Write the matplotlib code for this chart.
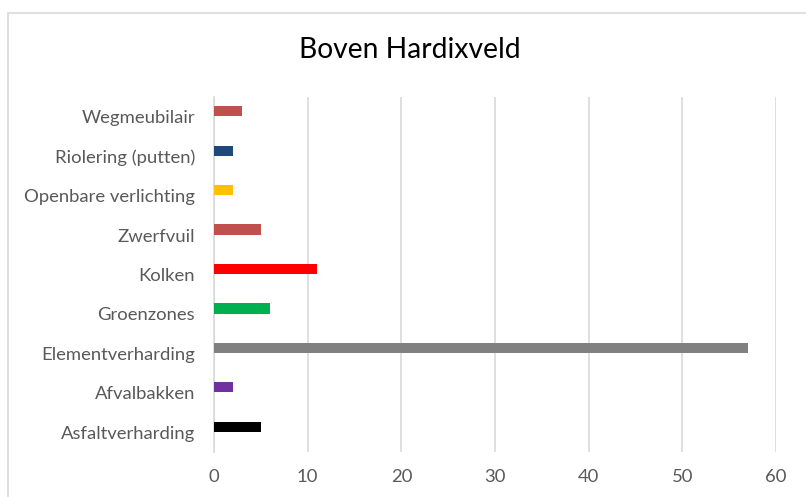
import matplotlib
matplotlib.use("Agg")
import matplotlib.pyplot as plt
from matplotlib.patches import Rectangle

categories = ["Asfaltverharding", "Afvalbakken", "Elementverharding", "Groenzones",
              "Kolken", "Zwerfvuil", "Openbare verlichting", "Riolering (putten)", "Wegmeubilair"]
values = [5, 2, 57, 6, 11, 5, 2, 2, 3]
colors = ["#000000", "#7030A0", "#808080", "#00B050", "#FF0000",
          "#C0504D", "#FFC000", "#1F497D", "#C0504D"]
xticks = [0, 10, 20, 30, 40, 50, 60]
title = "Boven Hardixveld"

plt.rcParams['font.family'] = ['Lato', 'DejaVu Sans']

W, H = 806, 497
fig = plt.figure(figsize=(W / 100, H / 100), dpi=100)
fig.patch.set_facecolor("white")

# chart border (partially cropped)
fig.patches.append(Rectangle((8 / W, -0.1), 1.2, 1 - 13 / H + 0.1, transform=fig.transFigure,
                             fill=False, edgecolor="#D9D9D9", linewidth=1.2, zorder=0))

left, right = 214 / W, 776 / W
top, bottom = 1 - 97 / H, 1 - 452 / H
ax = fig.add_axes([left, bottom, right - left, top - bottom])

y = list(range(len(categories)))
bar_offset = 0.14
ax.barh([v + bar_offset for v in y], values, height=0.26, color=colors, zorder=3)
ax.set_xlim(0, 60)
ax.set_ylim(-0.5, len(categories) - 0.5)
ax.set_xticks(xticks)
ax.set_xticklabels([str(t) for t in xticks])
ax.set_yticks(y)
ax.set_yticklabels(categories)
ax.tick_params(axis="both", length=0, labelcolor="#595959", labelsize=13.3)
ax.tick_params(axis="x", pad=12)
ax.tick_params(axis="y", pad=13.5)
ax.grid(axis="x", color="#D9D9D9", linewidth=1.2, zorder=0)
for s in ["top", "right", "bottom"]:
    ax.spines[s].set_visible(False)
ax.spines["left"].set_color("#D9D9D9")
ax.spines["left"].set_linewidth(1.2)

fig.text((300 + 520) / 2 / W, 1 - 50 / H, title, ha="center", va="center",
         fontsize=20.3, color="#000000")

fig.savefig("out.png", dpi=100, facecolor="white")
